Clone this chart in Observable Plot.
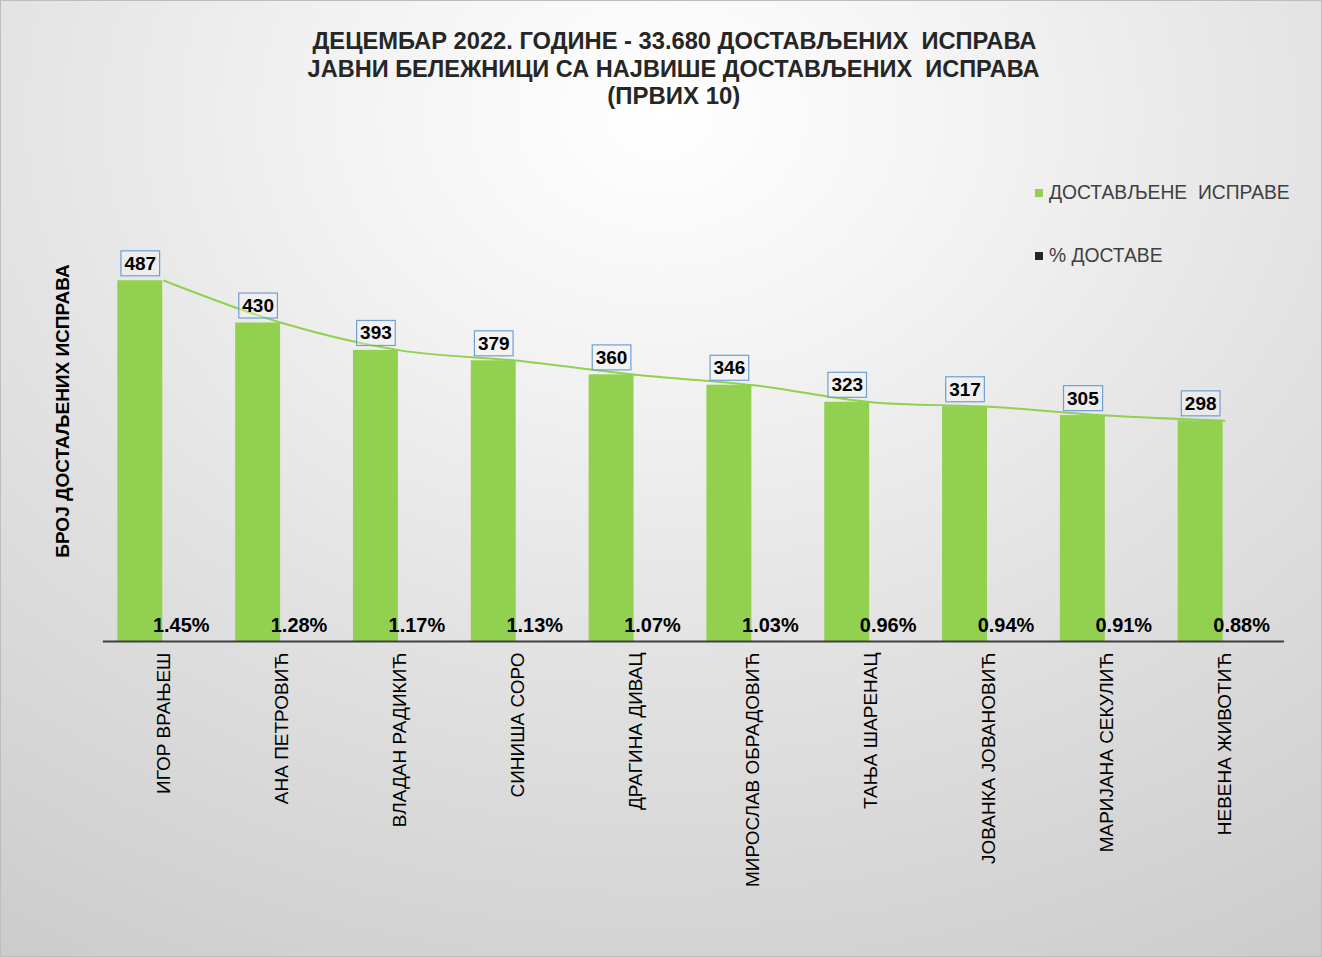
<!DOCTYPE html>
<html>
<head>
<meta charset="utf-8">
<script src="https://cdn.jsdelivr.net/npm/d3@7"></script>
<script src="https://cdn.jsdelivr.net/npm/@observablehq/plot@0.6"></script>
<style>
  html, body { margin: 0; padding: 0; }
  body { width: 1322px; height: 957px; overflow: hidden; }
  #wrap {
    position: relative; width: 1322px; height: 957px; box-sizing: border-box;
    border: 1px solid #bdbdbd;
    background: radial-gradient(ellipse 95% 105% at 50% 12%, #ffffff 0%, #f3f3f3 25%, #e2e2e2 55%, #cbcbcb 100%);
    font-family: "Liberation Sans", Arial, sans-serif;
  }
  #title {
    position: absolute; left: 12px; top: 27px; width: 1322px; text-align: center;
    font-family: "Liberation Sans Narrow", "Arial Narrow", "Liberation Sans", sans-serif;
    font-weight: bold; font-size: 23px; line-height: 27.5px; color: #262626;
  }
  #title div { display: inline-block; white-space: pre; transform-origin: center; }
  #ylabel {
    position: absolute; left: 62px; top: 410px; transform: translate(-50%, -50%) rotate(-90deg);
    font-weight: bold; font-size: 19px; white-space: nowrap; color: #000;
  }
  .leg { position: absolute; left: 1034px; font-size: 19.3px; color: #404040; white-space: pre; display: flex; align-items: center; }
  .leg span.sw { display: inline-block; width: 8px; height: 8px; margin-right: 6px; }
  #chart { position: absolute; left: 0; top: 0; }
</style>
</head>
<body>
<div id="wrap">
  <div id="title"></div>
  <div id="ylabel"></div>
  <div class="leg" id="leg1" style="top:181px"><span class="sw" style="background:#92d050"></span><span class="lt"></span></div>
  <div class="leg" id="leg2" style="top:244px"><span class="sw" style="background:#262626"></span><span class="lt"></span></div>
  <div id="chart"></div>
</div>
<script>
const titleLines = [
  "ДЕЦЕМБАР 2022. ГОДИНЕ - 33.680 ДОСТАВЉЕНИХ  ИСПРАВА",
  "ЈАВНИ БЕЛЕЖНИЦИ СА НАЈВИШЕ ДОСТАВЉЕНИХ  ИСПРАВА",
  "(ПРВИХ 10)"
];
const yAxisLabel = "БРОЈ ДОСТАЉЕНИХ ИСПРАВА";
const seriesNames = ["ДОСТАВЉЕНЕ  ИСПРАВЕ", "% ДОСТАВЕ"];
const names = ["ИГОР ВРАЊЕШ", "АНА ПЕТРОВИЋ", "ВЛАДАН РАДИКИЋ", "СИНИША СОРО", "ДРАГИНА ДИВАЦ",
               "МИРОСЛАВ ОБРАДОВИЋ", "ТАЊА ШАРЕНАЦ", "ЈОВАНКА ЈОВАНОВИЋ", "МАРИЈАНА СЕКУЛИЋ", "НЕВЕНА ЖИВОТИЋ"];
const counts = [487, 430, 393, 379, 360, 346, 323, 317, 305, 298];
const percents = [1.45, 1.28, 1.17, 1.13, 1.07, 1.03, 0.96, 0.94, 0.91, 0.88];

const data = names.map((n, i) => ({name: n, count: counts[i], pct: percents[i]}));

// HTML text
const tEl = document.getElementById("title");
titleLines.forEach(l => { const d = document.createElement("div"); d.textContent = l; tEl.appendChild(d); tEl.appendChild(document.createElement("br")); });
document.getElementById("ylabel").textContent = yAxisLabel;
document.querySelector("#leg1 .lt").textContent = seriesNames[0];
document.querySelector("#leg2 .lt").textContent = seriesNames[1];

const font = "Liberation Sans, Arial, sans-serif";
const plot = Plot.plot({
  width: 1322, height: 957,
  marginLeft: 102, marginRight: 37, marginTop: 270, marginBottom: 316,
  style: {background: "transparent", fontFamily: font, color: "#000", overflow: "visible"},
  x: {type: "band", domain: names, padding: 0, label: null},
  y: {domain: [0, 500], axis: null},
  marks: [
    Plot.barY(data, {x: "name", y: "count", fill: "#92d050", insetLeft: 12.5, insetRight: 60.5}),
    Plot.line(data, {x: "name", y: "count", stroke: "#92d050", strokeWidth: 2, curve: "catmull-rom"}),
    Plot.ruleY([0], {stroke: "#404040", strokeWidth: 2}),
    Plot.text(data, {x: "name", y: "count", text: d => String(d.count), dx: -24, dy: -17,
      fontSize: 19, fontWeight: "bold", fill: "#000", className: "vlabel"}),
    Plot.text(data, {x: "name", y: () => 0, text: d => d.pct.toFixed(2) + "%", dx: 17, dy: -15.5,
      fontSize: 20, fontWeight: "bold", fill: "#000"}),
    Plot.axisX({tickRotate: -90, tickSize: 0, tickPadding: 11, fontSize: 19, label: null, fill: "#000"})
  ]
});
document.getElementById("chart").appendChild(plot);

// boxes behind value labels
plot.querySelectorAll("g.vlabel text").forEach(t => {
  const bb = t.getBBox();
  const r = document.createElementNS("http://www.w3.org/2000/svg", "rect");
  const px = 3.5, py = 2;
  r.setAttribute("x", bb.x - px); r.setAttribute("y", bb.y - py);
  r.setAttribute("width", bb.width + 2 * px); r.setAttribute("height", bb.height + 2 * py);
  r.setAttribute("fill", "rgba(245,245,245,0.35)"); r.setAttribute("stroke", "#6f9fd3"); r.setAttribute("stroke-width", 1.2);
  const tr = t.getAttribute("transform"); if (tr) r.setAttribute("transform", tr);
  t.parentNode.insertBefore(r, t);
});

// fit title line widths to reference
const targets = [724, 732, 133];
tEl.querySelectorAll("div").forEach((d, i) => {
  const w = d.getBoundingClientRect().width;
  if (w > 0) d.style.transform = `scaleX(${targets[i] / w})`;
});
</script>
</body>
</html>
